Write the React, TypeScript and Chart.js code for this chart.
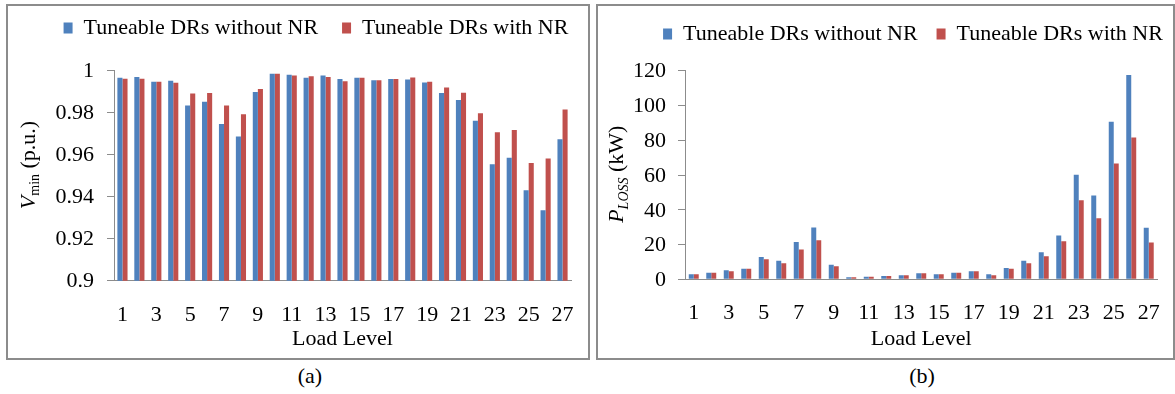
import React, { useEffect, useRef } from 'react';
import { Chart, registerables } from 'chart.js';

Chart.register(...registerables);

const loadLevels = ['1', '2', '3', '4', '5', '6', '7', '8', '9', '10', '11', '12', '13', '14', '15', '16', '17', '18', '19', '20', '21', '22', '23', '24', '25', '26', '27'];
const seriesNames = ['Tuneable DRs without NR', 'Tuneable DRs with NR'];
const seriesColors = ['#4F81BD', '#C0504D'];

const vminWithoutNR = [0.9966, 0.9970, 0.9947, 0.9952, 0.9834, 0.9852, 0.9746, 0.9687, 0.9898, 0.9986, 0.9981, 0.9967, 0.9977, 0.9961, 0.9966, 0.9954, 0.9961, 0.9958, 0.9944, 0.9894, 0.9860, 0.9762, 0.9555, 0.9585, 0.9431, 0.9336, 0.9673];
const vminWithNR = [0.9962, 0.9962, 0.9947, 0.9943, 0.9891, 0.9894, 0.9834, 0.9793, 0.9913, 0.9986, 0.9977, 0.9973, 0.9970, 0.9950, 0.9966, 0.9954, 0.9961, 0.9968, 0.9947, 0.9920, 0.9895, 0.9797, 0.9707, 0.9718, 0.9561, 0.9582, 0.9815];

const plossWithoutNR = [2.9, 3.8, 5.2, 6.1, 12.9, 10.6, 21.5, 29.8, 8.3, 1.2, 1.5, 1.9, 2.4, 3.5, 2.9, 3.8, 4.6, 2.9, 6.5, 10.6, 15.6, 25.2, 60.1, 48.2, 90.6, 117.5, 29.6];
const plossWithNR = [2.9, 3.8, 4.6, 6.1, 11.5, 9.2, 17.1, 22.5, 7.5, 1.2, 1.5, 1.9, 2.4, 3.5, 2.9, 3.8, 4.6, 2.3, 6.1, 9.2, 13.2, 21.9, 45.5, 35.1, 66.6, 81.6, 21.1];

const vminAxis = { min: 0.9, max: 1, step: 0.02 };
const plossAxis = { min: 0, max: 120, step: 20 };

const FONT = '"Liberation Serif", "Times New Roman", serif';
const AXIS_GREY = '#8c8c8c';

type Seg = { text: string; font: string; dy: number };

// fixes the legend's height and its horizontal centring span (left + right)
function legendPlugin(h: number, spanSum: number) {
  return {
    id: 'legendPlace',
    beforeInit(chart: any) {
      const legend = chart.legend;
      if (!legend) return;
      const orig = legend.fit;
      legend.fit = function () {
        orig.call(this);
        this.height = h;
      };
    },
    afterLayout(chart: any) {
      const legend = chart.legend;
      if (!legend) return;
      const far = 3000;
      legend.right = far;
      legend.left = spanSum - far;
    },
  };
}

function yTitlePlugin(x: number, y: number, segs: Seg[]) {
  return {
    id: 'yTitleRich',
    afterDraw(chart: any) {
      const ctx = chart.ctx;
      ctx.save();
      ctx.translate(x, y);
      ctx.rotate(-Math.PI / 2);
      ctx.fillStyle = '#000';
      ctx.textBaseline = 'alphabetic';
      ctx.textAlign = 'left';
      let total = 0;
      for (const s of segs) {
        ctx.font = s.font;
        total += ctx.measureText(s.text).width;
      }
      let cx = -total / 2;
      for (const s of segs) {
        ctx.font = s.font;
        ctx.fillText(s.text, cx, s.dy);
        cx += ctx.measureText(s.text).width;
      }
      ctx.restore();
    },
  };
}

type PanelCfg = {
  width: number;
  height: number;
  padRight: number;
  legendPad: number;
  legendHeight: number;
  legendSpan: number;
  yWidth: number;
  xHeight: number;
  yMin: number;
  yMax: number;
  yStep: number;
  yTickPad: number;
  catPct: number;
  dataA: number[];
  dataB: number[];
  titleX: number;
  titleY: number;
  titleSegs: Seg[];
  fmt: (v: number) => string;
};

function BarPanel({ cfg, left, top }: { cfg: PanelCfg; left: number; top: number }) {
  const ref = useRef<HTMLCanvasElement | null>(null);
  useEffect(() => {
    if (!ref.current) return;
    const chart = new Chart(ref.current, {
      type: 'bar',
      data: {
        labels: loadLevels,
        datasets: [
          { label: seriesNames[0], data: cfg.dataA, backgroundColor: seriesColors[0], borderWidth: 0 },
          { label: seriesNames[1], data: cfg.dataB, backgroundColor: seriesColors[1], borderWidth: 0 },
        ],
      },
      options: {
        responsive: false,
        animation: false,
        devicePixelRatio: 1,
        layout: { padding: { left: 0, right: cfg.padRight, top: 0, bottom: 0 } },
        datasets: { bar: { categoryPercentage: cfg.catPct, barPercentage: 1 } },
        plugins: {
          tooltip: { enabled: false },
          legend: {
            position: 'top',
            align: 'center',
            labels: {
              boxWidth: 9,
              boxHeight: 11,
              padding: cfg.legendPad,
              color: '#000',
              font: { family: FONT, size: 22 },
            },
          },
        },
        scales: {
          x: {
            grid: { display: false },
            border: { display: true, color: AXIS_GREY, width: 1 },
            ticks: {
              autoSkip: false,
              maxRotation: 0,
              minRotation: 0,
              padding: 13,
              color: '#000',
              font: { family: FONT, size: 22 },
              callback: (_v: any, i: number) => (i % 2 === 0 ? loadLevels[i] : ''),
            },
            title: {
              display: true,
              text: 'Load Level',
              color: '#000',
              font: { family: FONT, size: 22 },
              padding: { top: 0, bottom: 5.5 },
            },
            afterFit: (s: any) => {
              s.height = cfg.xHeight;
            },
          },
          y: {
            min: cfg.yMin,
            max: cfg.yMax,
            grid: { display: true, drawOnChartArea: false, drawTicks: true, tickLength: 7, color: AXIS_GREY },
            border: { display: true, color: AXIS_GREY, width: 1 },
            ticks: {
              stepSize: cfg.yStep,
              padding: cfg.yTickPad,
              labelOffset: 1,
              color: '#000',
              font: { family: FONT, size: 22 },
              callback: (v: any) => cfg.fmt(Number(v)),
            },
            afterFit: (s: any) => {
              s.width = cfg.yWidth;
            },
          },
        },
      } as any,
      plugins: [legendPlugin(cfg.legendHeight, cfg.legendSpan), yTitlePlugin(cfg.titleX, cfg.titleY, cfg.titleSegs)],
    });
    return () => chart.destroy();
  }, [cfg]);
  return (
    <canvas
      ref={ref}
      width={cfg.width}
      height={cfg.height}
      style={{ position: 'absolute', left, top, width: cfg.width, height: cfg.height }}
    />
  );
}

const panelA: PanelCfg = {
  width: 580,
  height: 365,
  padRight: 17,
  legendPad: 24,
  legendHeight: 77.7,
  legendSpan: 53 + 563,
  yWidth: 106,
  xHeight: 77.3,
  yMin: vminAxis.min,
  yMax: vminAxis.max,
  yStep: vminAxis.step,
  yTickPad: 13,
  catPct: 0.6,
  dataA: vminWithoutNR,
  dataB: vminWithNR,
  titleX: 27,
  titleY: 172,
  titleSegs: [
    { text: 'V', font: `italic 22px ${FONT}`, dy: 0 },
    { text: 'min', font: `14px ${FONT}`, dy: 4 },
    { text: ' (p.u.)', font: `22px ${FONT}`, dy: 0 },
  ],
  fmt: (v) => String(Number(v.toFixed(2))),
};

const panelB: PanelCfg = {
  width: 576,
  height: 354,
  padRight: 14,
  legendPad: 19,
  legendHeight: 66.7,
  legendSpan: 70 + 562,
  yWidth: 88,
  xHeight: 78.7,
  yMin: plossAxis.min,
  yMax: plossAxis.max,
  yStep: plossAxis.step,
  yTickPad: 12,
  catPct: 0.57,
  dataA: plossWithoutNR,
  dataB: plossWithNR,
  titleX: 25.7,
  titleY: 170.2,
  titleSegs: [
    { text: 'P', font: `italic 22px ${FONT}`, dy: 0 },
    { text: 'LOSS', font: `italic 14px ${FONT}`, dy: 5 },
    { text: ' (kW)', font: `22px ${FONT}`, dy: 0 },
  ],
  fmt: (v) => String(Math.round(v)),
};

export default function App() {
  return (
    <div
      style={{
        position: 'absolute',
        left: 0,
        top: 0,
        width: 1175,
        height: 394,
        background: '#fff',
        overflow: 'hidden',
        fontFamily: FONT,
      }}
    >
      <div style={{ position: 'absolute', left: 6, top: 4, width: 580, height: 352, border: `2px solid ${AXIS_GREY}` }} />
      <div style={{ position: 'absolute', left: 596, top: 4, width: 575, height: 352, border: `2px solid ${AXIS_GREY}` }} />
      <BarPanel cfg={panelA} left={8} top={-7} />
      <BarPanel cfg={panelB} left={597} top={4} />
      <div style={{ position: 'absolute', left: 260, top: 363, width: 100, textAlign: 'center', fontSize: 22, lineHeight: '26px', color: '#000' }}>(a)</div>
      <div style={{ position: 'absolute', left: 872, top: 363, width: 100, textAlign: 'center', fontSize: 22, lineHeight: '26px', color: '#000' }}>(b)</div>
    </div>
  );
}
